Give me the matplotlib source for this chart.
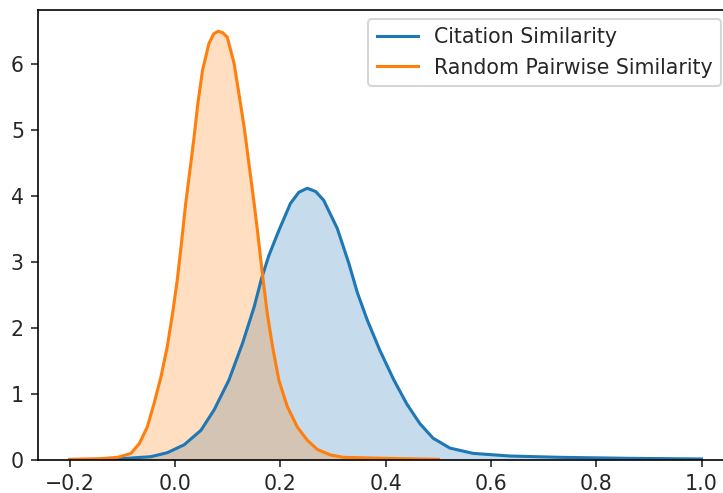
import matplotlib
matplotlib.use('Agg')
import matplotlib.pyplot as plt

# densidad: similitud de citas
cit_x = [-0.2, -0.15, -0.109, -0.046, -0.015, 0.017, 0.049, 0.074, 0.102, 0.128,
         0.150, 0.164, 0.178, 0.197, 0.219, 0.235, 0.251, 0.267, 0.282, 0.308,
         0.330, 0.346, 0.365, 0.389, 0.415, 0.440, 0.465, 0.490, 0.522, 0.566,
         0.636, 0.731, 0.86, 1.0]
cit_y = [0.0, 0.005, 0.015, 0.05, 0.11, 0.23, 0.45, 0.76, 1.21, 1.77,
         2.32, 2.75, 3.10, 3.48, 3.89, 4.06, 4.12, 4.07, 3.94, 3.51,
         2.98, 2.54, 2.12, 1.66, 1.22, 0.85, 0.55, 0.33, 0.18, 0.10,
         0.06, 0.04, 0.025, 0.015]

# similitud aleatoria por pares
rnd_x = [-0.2, -0.141, -0.109, -0.084, -0.068, -0.053, -0.040, -0.027, -0.015, -0.005,
         0.004, 0.0125, 0.020, 0.028, 0.036, 0.043, 0.052, 0.064, 0.073, 0.0815,
         0.090, 0.099, 0.112, 0.121, 0.131, 0.140, 0.150, 0.156, 0.166, 0.175,
         0.185, 0.197, 0.213, 0.232, 0.251, 0.270, 0.295, 0.320, 0.371, 0.43, 0.5]
rnd_y = [0.01, 0.02, 0.04, 0.10, 0.25, 0.50, 0.86, 1.26, 1.72, 2.22,
         2.73, 3.33, 3.89, 4.39, 4.90, 5.40, 5.91, 6.31, 6.46, 6.50,
         6.48, 6.41, 6.01, 5.56, 5.05, 4.50, 3.89, 3.50, 2.80, 2.22,
         1.72, 1.21, 0.81, 0.50, 0.30, 0.16, 0.076, 0.04, 0.03, 0.02, 0.01]

etiquetas = ['Citation Similarity', 'Random Pairwise Similarity']
colores = ['#1f77b4', '#ff7f0e']

plt.rcParams['text.color'] = '#262626'
plt.rcParams['xtick.color'] = '#262626'
plt.rcParams['ytick.color'] = '#262626'

dpi = 148
fig = plt.figure(figsize=(723 / dpi, 493 / dpi), dpi=dpi)
ax = fig.add_axes([0.053, 0.067, 0.961, 0.913])

for xs, ys, lab, col in zip([cit_x, rnd_x], [cit_y, rnd_y], etiquetas, colores):
    ax.plot(xs, ys, color=col, lw=1.5, label=lab)
    ax.fill_between(xs, ys, color=col, alpha=0.25, lw=0)

ax.set_xlim(-0.26, 1.06)
ax.set_ylim(0, 6.825)
ax.set_xticks([-0.2, 0.0, 0.2, 0.4, 0.6, 0.8, 1.0])
ax.set_yticks([0, 1, 2, 3, 4, 5, 6])

ax.legend(loc='upper right', bbox_to_anchor=(721 / 723, 1 - 19 / 493),
          bbox_transform=fig.transFigure, borderaxespad=0)

fig.savefig('out.png', dpi=dpi)
